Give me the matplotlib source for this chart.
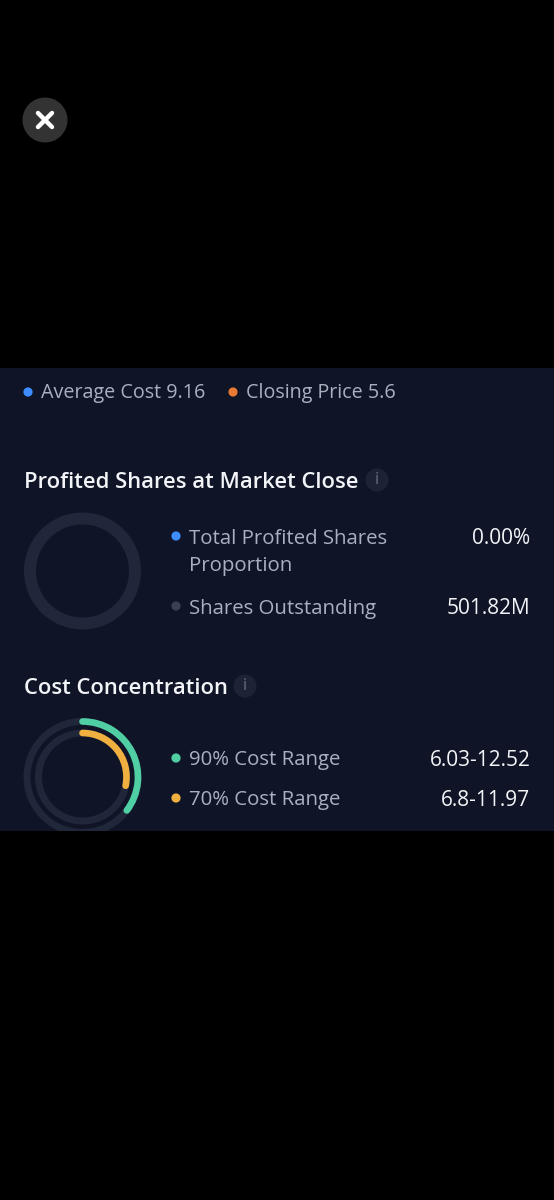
import matplotlib
matplotlib.use("Agg")
import matplotlib.pyplot as plt
from matplotlib.patches import Rectangle, Circle, Arc

plt.rcParams['font.family'] = ['Open Sans', 'DejaVu Sans']

# ---- data ----
legend_labels = ["Average Cost 9.16", "Closing Price 5.6"]
legend_colors = ["#3F8CFF", "#E87A35"]

profit_title = "Profited Shares at Market Close"
profit_labels = ["Total Profited Shares\nProportion", "Shares Outstanding"]
profit_values = ["0.00%", "501.82M"]
profit_shares = [0.00, 100.00]

cost_title = "Cost Concentration"
cost_labels = ["90% Cost Range", "70% Cost Range"]
cost_values = ["6.03-12.52", "6.8-11.97"]
cost_fractions = [0.353, 0.282]

BG = "#000000"
PANEL = "#0F1526"
TRACK = "#20273A"
TXT = "#A9B0C0"
WHITE = "#F2F4F8"
BLUE = "#3F8CFF"
GREY = "#3A4052"
GREEN = "#4FCFA3"
AMBER = "#F0B03F"

H = 1200
fig = plt.figure(figsize=(5.54, 12), dpi=100, facecolor=BG)
ax = fig.add_axes([0, 0, 1, 1])
ax.set_xlim(0, 554)
ax.set_ylim(0, H)
ax.axis("off")

def Y(py):
    return H - py

panel = Rectangle((0, Y(831)), 554, 463, facecolor=PANEL, edgecolor="none", zorder=1)
ax.add_patch(panel)

def dot(x, py, color, r=4.6):
    ax.add_patch(Circle((x, Y(py)), r, facecolor=color, edgecolor="none", zorder=3))

def label(x, py, s, color=TXT, size=14.7, weight="normal", ha="left", **kw):
    ax.text(x, Y(py), s, color=color, fontsize=size, fontweight=weight, ha=ha,
            va="center", zorder=4, **kw)

# close button
ax.add_patch(Circle((45, Y(120)), 22.5, facecolor="#333333", edgecolor="none", zorder=2))
ax.plot([38, 52], [Y(113), Y(127)], color="white", lw=3.2, solid_capstyle="round", zorder=3)
ax.plot([38, 52], [Y(127), Y(113)], color="white", lw=3.2, solid_capstyle="round", zorder=3)

# top legend
for x_dot, x_text, s, c in zip([28, 233], [41, 246], legend_labels, legend_colors):
    dot(x_dot, 392, c)
    label(x_text, 393, s, size=14.2)

# info icon helper
def info(x, py):
    ax.add_patch(Circle((x, Y(py)), 11.5, facecolor="#1C2334", edgecolor="none", zorder=3))
    ax.text(x, Y(py), "i", color="#666D80", fontsize=11.5, ha="center", va="center", zorder=4)

# Profited shares
label(24, 482, profit_title, color=WHITE, size=15.8, weight="semibold")
info(377, 480)
ax.pie(profit_shares, colors=[BLUE, TRACK], center=(82.5, Y(571)), radius=58.5, startangle=90,
       counterclock=False, frame=True, wedgeprops=dict(width=12, edgecolor="none", zorder=2))
ax.set_xlim(0, 554)
ax.set_ylim(0, H)
ax.axis("off")
dot(176, 536, BLUE)
dot(176, 606, GREY)
label(189, 552.5, profit_labels[0], linespacing=1.45)
label(189, 609, profit_labels[1])
label(530.5, 539, profit_values[0], color=WHITE, size=15, ha="right")
label(530.5, 609, profit_values[1], color=WHITE, size=15, ha="right")

# Cost concentration
label(24, 689, cost_title, color=WHITE, size=15.8, weight="semibold")
info(245, 686)
rings = [(55.5, GREEN), (44, AMBER)]
for (r, c), frac in zip(rings, cost_fractions):
    track = Arc((82.5, Y(777)), 2 * r, 2 * r, theta1=0, theta2=360, color=TRACK, lw=5, zorder=2)
    ax.add_patch(track)
    track.set_clip_path(panel)
    arc = Arc((82.5, Y(777)), 2 * r, 2 * r, theta1=90 - 360 * frac, theta2=90, color=c, lw=4.8,
              capstyle="round", zorder=3)
    ax.add_patch(arc)
    arc.set_clip_path(panel)
for py, s, v, c in zip([758, 798], cost_labels, cost_values, [GREEN, AMBER]):
    dot(176, py, c)
    label(189, py + 2, s)
    label(530.5, py + 2, v, color=WHITE, size=15, ha="right")

fig.savefig("out.png", dpi=100, facecolor=BG)
